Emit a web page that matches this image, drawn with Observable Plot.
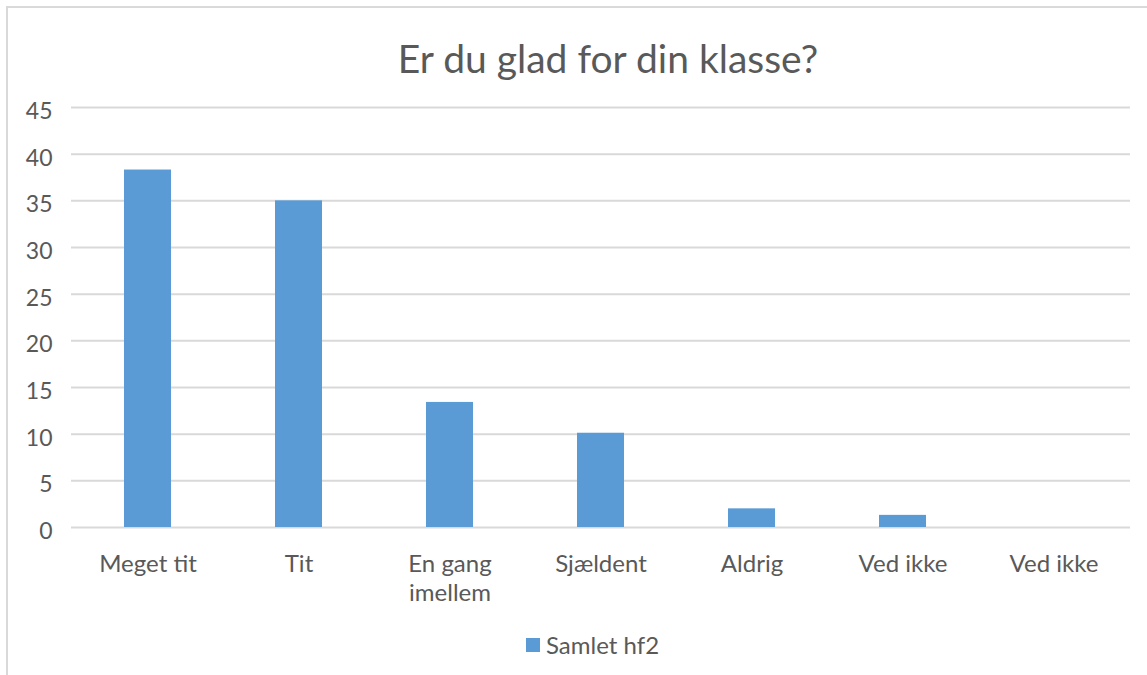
<!DOCTYPE html>
<html>
<head>
<meta charset="utf-8">
<script src="https://cdn.jsdelivr.net/npm/d3@7"></script>
<script src="https://cdn.jsdelivr.net/npm/@observablehq/plot@0.6"></script>
<style>
  html, body { margin: 0; padding: 0; background: #fff; }
  #wrap { position: relative; width: 1147px; height: 675px; overflow: hidden; font-family: Lato, "Noto Sans", sans-serif; color: #595959; }
  #frame { position: absolute; left: 6px; top: 6px; width: 1200px; height: 700px; border-top: 2px solid #d9d9d9; border-left: 2px solid #d9d9d9; }
  #title { position: absolute; left: 0; width: 1216px; top: 35px; text-align: center; font-size: 39px; line-height: 46px; white-space: nowrap; }
  #chart { position: absolute; left: 0; top: 80px; }
  #legend { position: absolute; left: 526px; top: 630px; font-size: 24px; line-height: 30px; white-space: nowrap; display: flex; align-items: center; }
  #legend .sw { width: 14px; height: 14px; background: #5B9BD5; margin-right: 6px; margin-top: 0px; }
</style>
</head>
<body>
<div id="wrap">
  <div id="frame"></div>
  <div id="title"></div>
  <div id="chart"></div>
  <div id="legend"><span class="sw"></span><span id="legtext"></span></div>
</div>
<script>
const titleText = "Er du glad for din klasse?";
const seriesName = "Samlet hf2";
const categories = ["Meget tit", "Tit", "En gang\nimellem", "Sjældent", "Aldrig", "Ved ikke", "Ved ikke"];
const values = [38.3, 35.0, 13.4, 10.1, 2.0, 1.3, 0];
const yTicks = [0, 5, 10, 15, 20, 25, 30, 35, 40, 45];

document.getElementById("title").textContent = titleText;
document.getElementById("legtext").textContent = seriesName;

const data = categories.map((c, i) => ({i, label: c, value: values[i]}));

const plot = Plot.plot({
  width: 1147,
  height: 540,
  marginTop: 27,
  marginBottom: 93,
  marginLeft: 71,
  marginRight: 17,
  style: {fontFamily: "Lato, 'Noto Sans', sans-serif", color: "#595959", background: "transparent"},
  x: {domain: data.map(d => d.i), paddingInner: 0.6875, paddingOuter: 0.34375, axis: null},
  y: {domain: [0, 45], axis: null},
  marks: [
    Plot.ruleY(yTicks, {stroke: "#d9d9d9", strokeWidth: 2}),
    Plot.barY(data, {x: "i", y: "value", fill: "#5B9BD5"}),
    Plot.axisY({ticks: yTicks, tickSize: 0, tickPadding: 19, fontSize: 23, dy: 4, fill: "#595959", label: null}),
    Plot.axisX({tickSize: 0, tickPadding: 24, fontSize: 24, lineHeight: 1.2, fill: "#595959", label: null,
      tickFormat: i => categories[i]})
  ]
});
document.getElementById("chart").appendChild(plot);
</script>
</body>
</html>
